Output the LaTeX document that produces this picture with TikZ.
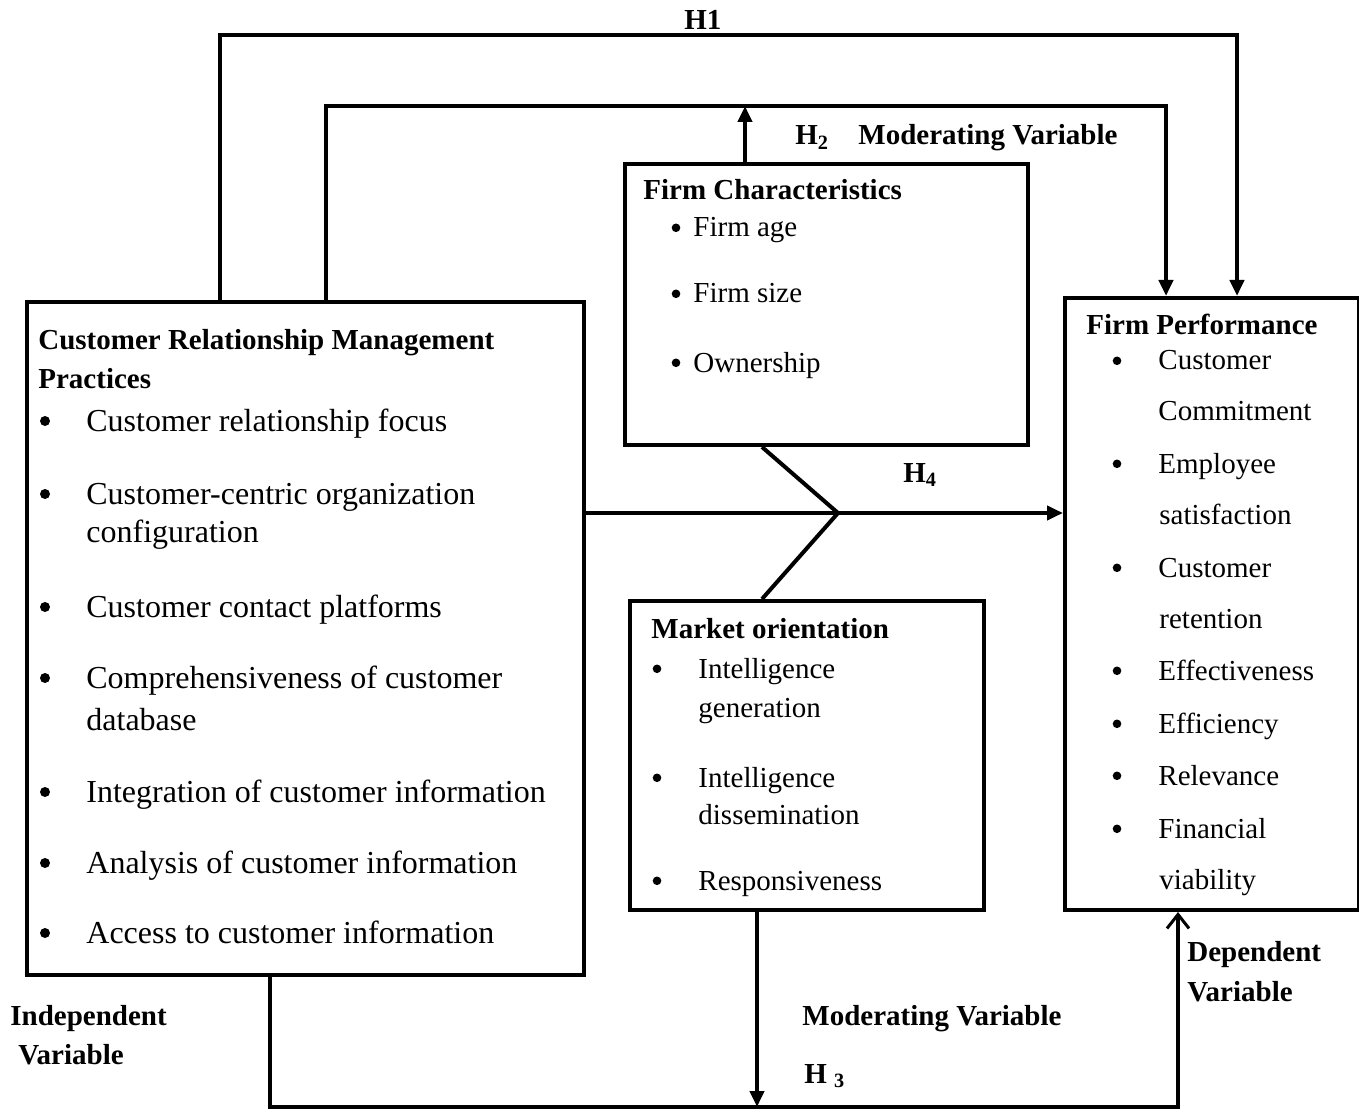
\documentclass[tikz,border=0pt]{standalone}
\usepackage{fontspec}
\setmainfont{Liberation Serif}
\usetikzlibrary{arrows.meta}
\begin{document}
\begin{tikzpicture}[x=0.5pt,y=-0.5pt,
 box/.style={draw, line width=2pt, anchor=north west, inner sep=0pt},
 con/.style={line width=2pt},
 arr/.style={con, -{Triangle[length=8pt,width=7pt]}},
 oarr/.style={con, -{Straight Barb[length=7pt,width=11pt,line width=1.5pt]}},
 t/.style={anchor=base west, inner sep=0pt, font=\fontsize{14.5}{17}\selectfont},
 tb/.style={anchor=base west, inner sep=0pt, font=\fontsize{14.5}{17}\selectfont\bfseries},
 tl/.style={anchor=base west, inner sep=0pt, font=\fontsize{16}{19}\selectfont},
 bul/.style={circle, fill, inner sep=0pt, minimum size=4.3pt, yshift=4.6pt},
 bull/.style={circle, fill, inner sep=0pt, minimum size=5pt, yshift=5pt},
]
\useasboundingbox[fill=white] (0,0) rectangle (1359,1112);

% boxes
\node[box, minimum width=278.5pt, minimum height=336.5pt] (crm) at (25,300) {};
\node[box, minimum width=201.5pt, minimum height=140.5pt] (fc) at (623,162) {};
\node[box, minimum width=177pt, minimum height=154.5pt] (mo) at (628,599) {};
\node[box, minimum width=147pt, minimum height=306pt] (fp) at (1063,296) {};

% coordinates
\coordinate (h1l) at (220,35);
\coordinate (h1r) at (1237,35);
\coordinate (h2l) at (326,106);
\coordinate (h2r) at (1166,106);
\coordinate (h2m) at (745,106);
\coordinate (j) at (838,513);
\coordinate (dg) at (762,0);
\coordinate (b1) at (270,1107);
\coordinate (b2) at (1178,1107);
\coordinate (b3) at (757,1107);

% connectors
\draw[arr] (crm.north -| h1l) -- (h1l) -- (h1r) -- (fp.north -| h1r);
\draw[arr] (crm.north -| h2l) -- (h2l) -- (h2r) -- (fp.north -| h2r);
\draw[arr] (fc.north -| h2m) -- (h2m);
\draw[arr] (crm.east |- j) -- (fp.west |- j);
\draw[con] (fc.south -| dg) -- (j) -- (mo.north -| dg);
\draw[oarr] (crm.south -| b1) -- (b1) -- (b2) -- (fp.south -| b2);
\draw[arr] (mo.south -| b3) -- (b3);

% labels
\node[tb] (lh1) at (684,30) {H1};
\node[tb] (lh2) at (795,145) {H\textsubscript{2}};
\node[tb] (lmv1) at (858,145) {Moderating Variable};
\node[tb] (lh4) at (903,482) {H\textsubscript{4}};
\node[tb] (lmv2) at (802,1025) {Moderating Variable};
\node[tb] (lh3) at (804,1083) {H \textsubscript{3}};
\node[tb] (ldep1) at (1187,961) {Dependent};
\node[tb] (ldep2) at (1187,1001) {Variable};
\node[tb] (lind1) at (10,1025) {Independent};
\node[tb] (lind2) at (18,1064) {Variable};

% CRM box text
\node[tb] (c0) at (38,350) {Customer Relationship Management};
\node[tb] (c0b) at (38,388) {Practices};
\node[bull] (cb1) at (45,431) {};
\node[tl] (c1) at (86,431) {Customer relationship focus};
\node[bull] (cb2) at (45,504) {};
\node[tl] (c2) at (86,504) {Customer-centric organization};
\node[tl] (c2b) at (86,542) {configuration};
\node[bull] (cb3) at (45,617) {};
\node[tl] (c3) at (86,617) {Customer contact platforms};
\node[bull] (cb4) at (45,688) {};
\node[tl] (c4) at (86,688) {Comprehensiveness of customer};
\node[tl] (c4b) at (86,730) {database};
\node[bull] (cb5) at (45,802) {};
\node[tl] (c5) at (86,802) {Integration of customer information};
\node[bull] (cb6) at (45,873) {};
\node[tl] (c6) at (86,873) {Analysis of customer information};
\node[bull] (cb7) at (45,943) {};
\node[tl] (c7) at (86,943) {Access to customer information};

% Firm characteristics text
\node[tb] (f0) at (643,200) {Firm Characteristics};
\node[bul] (fb1) at (676,237) {};
\node[t] (f1) at (693,237) {Firm age};
\node[bul] (fb2) at (676,303) {};
\node[t] (f2) at (693,303) {Firm size};
\node[bul] (fb3) at (676,372) {};
\node[t] (f3) at (693,372) {Ownership};

% Market orientation text
\node[tb] (m0) at (651,638) {Market orientation};
\node[bul] (mb1) at (657,678) {};
\node[t] (m1) at (698,678) {Intelligence};
\node[t] (m1b) at (698,717) {generation};
\node[bul] (mb2) at (657,787) {};
\node[t] (m2) at (698,787) {Intelligence};
\node[t] (m2b) at (698,824) {dissemination};
\node[bul] (mb3) at (657,890) {};
\node[t] (m3) at (698,890) {Responsiveness};

% Firm performance text
\node[tb] (p0) at (1086,335) {Firm Performance};
\node[bul] (pb1) at (1117,370) {};
\node[t] (p1) at (1158,370) {Customer};
\node[t] (p1b) at (1158,421) {Commitment};
\node[bul] (pb2) at (1117,473) {};
\node[t] (p2) at (1158,473) {Employee};
\node[t] (p2b) at (1159,524) {satisfaction};
\node[bul] (pb3) at (1117,577) {};
\node[t] (p3) at (1158,577) {Customer};
\node[t] (p3b) at (1159,628) {retention};
\node[bul] (pb4) at (1117,680) {};
\node[t] (p4) at (1158,680) {Effectiveness};
\node[bul] (pb5) at (1117,733) {};
\node[t] (p5) at (1158,733) {Efficiency};
\node[bul] (pb6) at (1117,785) {};
\node[t] (p6) at (1158,785) {Relevance};
\node[bul] (pb7) at (1117,838) {};
\node[t] (p7) at (1158,838) {Financial};
\node[t] (p7b) at (1159,889) {viability};
\end{tikzpicture}
\end{document}
